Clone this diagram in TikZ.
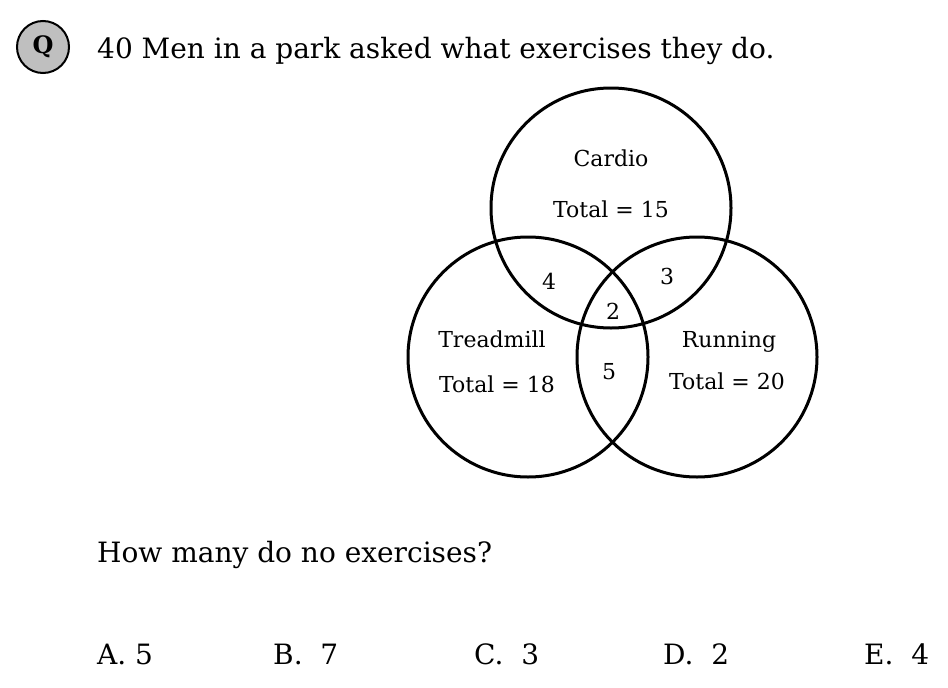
\documentclass[tikz,border=0pt]{standalone}
\usepackage{fontspec}
\setmainfont{DejaVu Serif}
\tikzset{
  % set circles
  vset/.style={draw, line width=3pt, shape=circle, minimum size=240pt, inner sep=0pt},
  % labels inside the diagram
  vlab/.style={font=\fontsize{22}{26}\selectfont, inner sep=0pt, anchor=base},
  % question text
  qtext/.style={font=\fontsize{28}{32}\selectfont, anchor=base west, inner sep=0pt},
}
\begin{document}
\begin{tikzpicture}[x=1pt, y=-1pt]
  \useasboundingbox (0,0) rectangle (948,688);
  % badge
  \node[draw, line width=2pt, fill=black!25, shape=circle, minimum size=52pt,
    font=\fontsize{24}{28}\selectfont\bfseries] (badge) at (43,47) {Q};
  \node[qtext] (title) at (97,58) {40 Men in a park asked what exercises they do.};

  % sets
  \node[vset] (cardio) at (611,208) {};
  \node[vset] (tread) at (528,357) {};
  \node[vset] (run) at (697,357) {};

  \node[vlab] (cname) at (611,166) {Cardio};
  \node[vlab] (ctot) at (611,217) {Total = 15};
  \node[vlab] (tname) at (492,347) {Treadmill};
  \node[vlab] (ttot) at (497,392) {Total = 18};
  \node[vlab] (rname) at (729,347) {Running};
  \node[vlab] (rtot) at (727,389) {Total = 20};
  \node[vlab] (ct) at (549,289) {4};
  \node[vlab] (cr) at (667,284) {3};
  \node[vlab] (all) at (613,319) {2};
  \node[vlab] (tr) at (609,379) {5};

  % question and answers
  \node[qtext] (ask) at (97,562) {How many do no exercises?};
  \foreach \x/\t [count=\i] in {97/A. 5, 273/B.\ \ 7, 474/C.\ \ 3, 663/D.\ \ 2, 864/E.\ \ 4}
    \node[qtext] (ans\i) at (\x,664) {\t};
\end{tikzpicture}
\end{document}
